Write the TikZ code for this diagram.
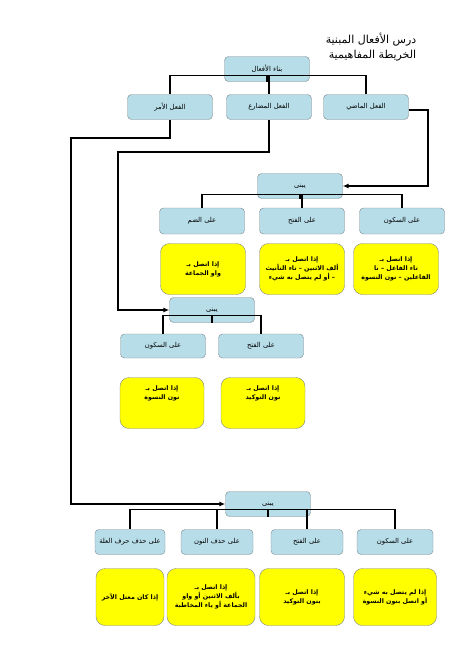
\documentclass[tikz,border=0pt]{standalone}
\usepackage{fontspec}
\TeXXeTstate=1
\newfontfamily\arabicfont[Script=Arabic]{DejaVu Sans}
\usetikzlibrary{arrows.meta,positioning}
\definecolor{boxblue}{RGB}{183,221,232}
\definecolor{boxyellow}{RGB}{255,255,0}
\definecolor{boxline}{RGB}{125,135,140}
\newcommand{\ar}[1]{\beginR #1\endR}

\begin{document}
\begin{tikzpicture}[
  x=1pt, y=-1pt,
  verb/.style={draw=boxline, rounded corners=4pt, align=center, fill=boxblue,
    minimum width=85pt, minimum height=25pt, inner sep=1pt,
    font=\arabicfont\fontsize{6.8}{8}\selectfont},
  cond/.style={draw=boxline, rounded corners=9pt, align=center, fill=boxyellow,
    minimum width=85pt, minimum height=51pt, inner sep=1pt,
    font=\arabicfont\bfseries\fontsize{6.3}{9}\selectfont},
  tree/.style={line width=1.1pt},
  arr/.style={-{Latex[length=6pt,width=5pt]}, line width=2.2pt}
]
\useasboundingbox (0,0) rectangle (466,659);

% title
\node[align=right, font=\arabicfont\fontsize{11}{15}\selectfont] (title) at (371,47)
  {\ar{درس الأفعال المبنية}\\\ar{الخريطة المفاهيمية}};

% verbs
\node[verb] (top) at (267,69) {\ar{بناء الأفعال}};
\node[verb] (amr) at (170,107) {\ar{الفعل الأمر}};
\node[verb] (mudare) at (269,107) {\ar{الفعل المضارع}};
\node[verb] (madi) at (366,107) {\ar{الفعل الماضي}};

% past tense
\node[verb] (bnA) at (300,186) {\ar{يبنى}};
\node[verb, minimum height=26pt] (damA) at (202,221) {\ar{على الضم}};
\node[verb, minimum height=26pt] (fathA) at (302,221) {\ar{على الفتح}};
\node[verb, minimum height=26pt] (sukA) at (402,221) {\ar{على السكون}};
\node[cond] (damAx) at (203,269) {\ar{إذا اتصل بـ}\\\ar{واو الجماعة}};
\node[cond] (fathAx) at (302,269)
  {\ar{إذا اتصل بـ}\\\ar{ألف الاثنين – تاء التأنيث}\\\ar{– أو لم يتصل به شيء}};
\node[cond] (sukAx) at (396,269)
  {\ar{إذا اتصل بـ}\\\ar{تاء الفاعل – نا}\\\ar{الفاعلين – نون النسوة}};

% present tense
\node[verb] (bnB) at (212,310) {\ar{يبنى}};
\node[verb, minimum height=24pt] (sukB) at (163,346) {\ar{على السكون}};
\node[verb, minimum height=24pt] (fathB) at (261,346) {\ar{على الفتح}};
\node[cond, minimum width=84pt] (sukBx) at (162,403) {\ar{إذا اتصل بـ}\\\ar{نون النسوة}\\[12pt]};
\node[cond, minimum width=84pt] (fathBx) at (263,403) {\ar{إذا اتصل بـ}\\\ar{نون التوكيد}\\[12pt]};

% imperative
\node[verb] (bnC) at (268,504) {\ar{يبنى}};
\node[verb, minimum width=70pt] (illaC) at (130,542) {\ar{على حذف حرف العلة}};
\node[verb, minimum width=72pt] (nunC) at (217,542) {\ar{على حذف النون}};
\node[verb, minimum width=72pt] (fathC) at (307,542) {\ar{على الفتح}};
\node[verb, minimum width=76pt] (sukC) at (395,542) {\ar{على السكون}};
\node[cond, minimum width=68pt, minimum height=57pt] (illaCx) at (130,597)
  {\ar{إذا كان معتل الآخر}};
\node[cond, minimum width=88pt, minimum height=57pt] (nunCx) at (211,597)
  {\ar{إذا اتصل بـ}\\\ar{بألف الاثنين أو واو}\\\ar{الجماعة أو ياء المخاطبة}};
\node[cond, minimum height=57pt] (fathCx) at (302,597)
  {\ar{إذا اتصل بـ}\\\ar{بنون التوكيد}};
\node[cond, minimum width=83pt, minimum height=57pt] (sukCx) at (395,597)
  {\ar{إذا لم يتصل به شيء}\\\ar{أو اتصل بنون النسوة}};

% tree lines
\coordinate (jTop) at ([yshift=6pt]top.south);
\draw[tree] (top.south) -- (jTop);
\foreach \n in {amr,mudare,madi} \draw[tree] (jTop) -| (\n.north);
\coordinate (jA) at ([yshift=4pt]bnA.south);
\draw[tree] (bnA.south) -- (jA);
\foreach \n in {damA,fathA,sukA} \draw[tree] (jA) -| (\n.north);
\coordinate (jB) at ([yshift=7pt]bnB.south);
\draw[tree] (bnB.south) -- (jB);
\foreach \n in {sukB,fathB} \draw[tree] (jB) -| (\n.north);
\coordinate (jC) at ([yshift=7pt]bnC.south);
\draw[tree] (bnC.south) -- (jC);
\foreach \n in {illaC,nunC,fathC,sukC} \draw[tree] (jC) -| (\n.north);

% arrows
\coordinate (turnA) at (428,110);
\coordinate (turnB) at (118,152);
\coordinate (turnC) at (71,138);
\draw[arr] ([yshift=-3pt]madi.east) -- (turnA) |- (bnA.east);
\draw[arr] (mudare.south) |- (turnB) |- (bnB.west);
\draw[arr] (amr.south) |- (turnC) |- (bnC.west);
\end{tikzpicture}
\end{document}
